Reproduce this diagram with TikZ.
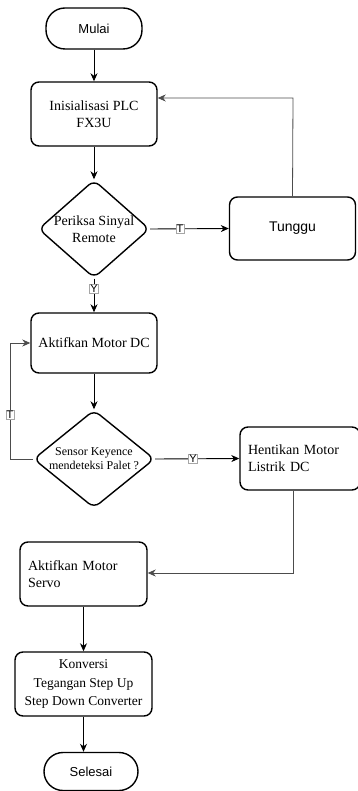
\documentclass[tikz,border=0pt]{standalone}
\usepackage{fontspec}
\setmainfont{Liberation Serif}
\setsansfont{Liberation Sans}
\usetikzlibrary{shapes.geometric,arrows.meta}
\tikzset{
  box/.style={draw, line width=1.4pt, rounded corners=8pt, inner sep=2pt, font=\fontsize{14}{17}\selectfont, align=center},
  term/.style={draw, line width=1.4pt, rounded corners=19pt, font=\sffamily\fontsize{13}{15}\selectfont},
  decision/.style={draw, diamond, line width=1.4pt, rounded corners=7pt, inner sep=0pt},
  dtext/.style={align=center, inner sep=0pt},
  conn/.style={line width=0.9pt, -{Stealth[length=8pt,width=7pt,inset=2.5pt]}},
  back/.style={line width=0.8pt, draw=black!70, -{Stealth[length=8pt,width=7pt,inset=2.5pt]}},
  lbl/.style={fill=white, draw=black!35, line width=0.3pt, inner sep=0.8pt, font=\sffamily\fontsize{11}{12}\selectfont}
}
\begin{document}
\begin{tikzpicture}[x=1pt, y=-1pt]
\useasboundingbox (0,0) rectangle (357,791);
\node[term, minimum width=96pt, minimum height=41pt] (mulai) at (94,28.5) {Mulai};
\node[box, minimum width=126pt, minimum height=64pt] (init) at (94,114) {Inisialisasi PLC\\FX3U};
\node[decision, minimum width=111pt, minimum height=98pt] (d1) at (94,229) {};
\node[dtext, font=\fontsize{14}{17}\selectfont] (d1t) at (94,229) {Periksa Sinyal\\Remote};
\node[box, font=\sffamily\fontsize{14}{17}\selectfont, minimum width=126pt, minimum height=63pt] (tunggu) at (292.5,228.5) {Tunggu};
\node[box, minimum width=126pt, minimum height=60pt] (dc) at (94,343) {Aktifkan Motor DC};
\node[decision, minimum width=121pt, minimum height=98pt] (d2) at (94,459) {};
\node[dtext, font=\fontsize{12}{14}\selectfont] (d2t) at (94,459) {Sensor Keyence\\mendeteksi Palet ?};
\node[box, minimum width=120pt, minimum height=63pt, align=left, text width=104pt] (stop) at (300,458.5) {Hentikan Motor\\Listrik DC};
\node[box, minimum width=127pt, minimum height=64pt, align=left, text width=111pt] (servo) at (83.5,574) {Aktifkan Motor\\Servo\\[-4pt]};
\node[box, minimum width=137pt, minimum height=64pt, font=\fontsize{13.5}{18.5}\selectfont] (konv) at (83.5,684) {Konversi\\Tegangan Step Up\\Step Down Converter};
\node[term, minimum width=94pt, minimum height=38pt] (selesai) at (91,771.5) {Selesai};

\coordinate (c1) at (293,98);
\coordinate (c2) at (293,573);
\coordinate (c3) at (10,459);
\coordinate (c4) at (10,343);

\draw[conn] (mulai) -- (init);
\draw[conn] (init) -- (d1);
\draw[conn] (d1.east) -- node[lbl, pos=0.38] (lt1) {T} (tunggu.west);
\draw[back] (tunggu.north) -- (c1) -- (init.east |- c1);
\draw[conn] (d1.south) -- node[lbl, pos=0.3] (ly1) {Y} (dc.north);
\draw[conn] (dc) -- (d2);
\draw[back] (d2.west) -- (c3) -- node[lbl, pos=0.38] (lt2) {T} (c4) -- (dc.west);
\draw[conn] (d2.east) -- node[lbl, pos=0.45] (ly2) {Y} (stop.west);
\draw[back] (c2 |- stop.south) -- (c2) -- (servo.east |- c2);
\draw[conn] (servo) -- (konv);
\draw[conn] (konv.south) -- (konv.south |- selesai.north);
\end{tikzpicture}
\end{document}
